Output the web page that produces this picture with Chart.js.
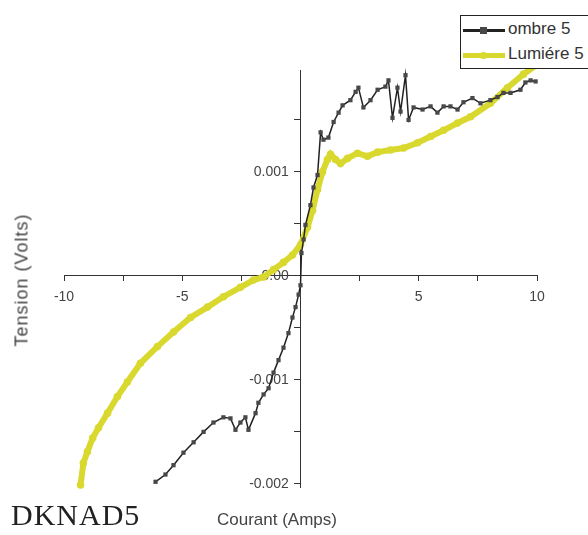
<!DOCTYPE html>
<html lang="fr">
<head>
  <meta charset="UTF-8" />
  <title>ombre 5 / Lumiére 5</title>
  <script src="https://cdn.jsdelivr.net/npm/chart.js"></script>
  <style>
    body { margin: 0; background: #fff; font-family: Arial, "Liberation Sans", sans-serif; }
    #wrap { position: relative; width: 588px; height: 535px; overflow: hidden; }
    canvas { position: absolute; left: 0; top: 0; }
    .lbl { position: absolute; color: #444; white-space: nowrap; }
    #xTitle { left: 217px; top: 510px; font-size: 17px; }
    #yTitle { left: 22px; top: 280px; font-size: 18px; letter-spacing: 1px; transform: translate(-50%, -50%) rotate(-90deg); }
    #tag { left: 11px; top: 498px; font-family: "Liberation Serif", "Times New Roman", serif; font-size: 30px; letter-spacing: 1px; color: #222; }
    #legend { position: absolute; left: 460px; top: 15px; width: 140px; height: 52px; border: 1px solid #222; background: #fff; }
    .row { position: absolute; left: 2px; height: 20px; width: 140px; }
    .row .ln { position: absolute; left: 0; width: 42px; top: 9px; }
    .row .mk { position: absolute; left: 17px; }
    .row .tx { position: absolute; left: 45px; top: 0; font-size: 17px; color: #333; line-height: 20px; }
  </style>
</head>
<body>
<div id="wrap">
  <canvas id="chart" width="588" height="535"></canvas>
  <div id="legend"></div>
  <div class="lbl" id="xTitle">Courant (Amps)</div>
  <div class="lbl" id="yTitle">Tension (Volts)</div>
  <div class="lbl" id="tag">DKNAD5</div>
</div>

<script>
  // courant (A) / tension (V)
  const courantOmbre = [-6.13, -5.71, -5.37, -4.95, -4.52, -4.10, -3.68, -3.26, -2.96, -2.75, -2.54, -2.33, -2.20, -1.90, -1.78, -1.56, -1.35, -1.14, -0.93, -0.72, -0.51, -0.34, -0.21, -0.08, 0.00, 0.04, 0.13, 0.21, 0.42, 0.55, 0.72, 0.85, 0.97, 1.18, 1.40, 1.61, 1.78, 2.11, 2.33, 2.45, 2.66, 2.96, 3.26, 3.59, 3.72, 3.89, 4.10, 4.23, 4.44, 4.57, 4.78, 5.16, 5.50, 5.79, 6.05, 6.34, 6.64, 6.89, 7.27, 7.61, 8.03, 8.33, 8.58, 8.88, 9.30, 9.51, 9.73, 9.94];
  const tensionOmbre = [-0.00198, -0.00191, -0.00182, -0.00170, -0.00160, -0.00150, -0.00141, -0.00136, -0.00137, -0.00148, -0.00141, -0.00136, -0.00148, -0.00132, -0.00122, -0.00114, -0.00108, -0.00093, -0.00081, -0.00069, -0.00055, -0.00040, -0.00030, -0.00018, -0.00009, 0.00022, 0.00035, 0.00049, 0.00068, 0.00085, 0.00097, 0.00138, 0.00131, 0.00133, 0.00148, 0.00157, 0.00164, 0.00169, 0.00177, 0.00181, 0.00162, 0.00169, 0.00179, 0.00182, 0.00188, 0.00152, 0.00181, 0.00158, 0.00193, 0.00150, 0.00162, 0.00160, 0.00163, 0.00157, 0.00163, 0.00163, 0.00160, 0.00167, 0.00171, 0.00166, 0.00169, 0.00172, 0.00176, 0.00176, 0.00179, 0.00186, 0.00188, 0.00187];

  const courantLumiere = [-9.30, -9.18, -9.01, -8.79, -8.54, -8.16, -7.74, -7.32, -6.77, -6.05, -5.37, -4.65, -3.93, -3.26, -2.54, -1.99, -1.56, -1.14, -0.72, -0.34, 0.00, 0.30, 0.51, 0.72, 0.93, 1.14, 1.27, 1.48, 1.69, 1.99, 2.41, 2.83, 3.26, 3.81, 4.36, 4.95, 5.50, 6.05, 6.64, 7.19, 8.03, 8.75, 9.43, 10.0];
  const tensionLumiere = [-0.00201, -0.00180, -0.00169, -0.00156, -0.00146, -0.00132, -0.00116, -0.00102, -0.00084, -0.00068, -0.00054, -0.00040, -0.00030, -0.00020, -0.00011, -0.00004, -0.00001, 0.00006, 0.00013, 0.00020, 0.00030, 0.00047, 0.00063, 0.00083, 0.00100, 0.00112, 0.00117, 0.00112, 0.00108, 0.00113, 0.00118, 0.00115, 0.00119, 0.00121, 0.00123, 0.00128, 0.00134, 0.00140, 0.00147, 0.00153, 0.00166, 0.00181, 0.00194, 0.00203];

  const xTickLabels = ['-10', '-5', '5', '10'];
  const yTickLabels = ['-0.002', '-0.001', '0.00', '0.001'];

  function pts(xs, ys) {
    return xs.map((x, i) => ({ x: x, y: ys[i] }));
  }

  const axisColor = '#333';
  const tickFont = { family: 'Arial, "Liberation Sans", sans-serif', size: 14 };

  const ctx = document.getElementById('chart').getContext('2d');
  const chart = new Chart(ctx, {
    type: 'scatter',
    data: {
      datasets: [
        {
          label: 'ombre 5',
          data: pts(courantOmbre, tensionOmbre),
          showLine: true,
          borderColor: '#222',
          borderWidth: 1.5,
          pointStyle: 'rect',
          pointRadius: 3,
          pointBackgroundColor: '#484848',
          pointBorderColor: '#484848',
          pointBorderWidth: 0,
          clip: false
        },
        {
          label: 'Lumiére 5',
          data: pts(courantLumiere, tensionLumiere),
          showLine: true,
          borderColor: '#d8d82e',
          borderWidth: 6,
          pointStyle: 'circle',
          pointRadius: 3.8,
          pointBackgroundColor: '#d8d82e',
          pointBorderColor: '#d8d82e',
          pointBorderWidth: 0,
          clip: false
        }
      ]
    },
    options: {
      responsive: false,
      animation: false,
      devicePixelRatio: 1,
      layout: { padding: { left: 64, right: 51, top: 70, bottom: 48 } },
      plugins: {
        legend: { display: false },
        tooltip: { enabled: false }
      },
      scales: {
        x: {
          type: 'linear',
          position: { y: 0 },
          min: -10,
          max: 10,
          border: { display: true, color: axisColor, width: 1 },
          grid: { drawOnChartArea: false, drawTicks: true, tickLength: 5, color: axisColor },
          ticks: {
            stepSize: 2.5,
            autoSkip: false,
            maxRotation: 0,
            padding: 8,
            color: '#444',
            font: tickFont,
            callback: v => xTickLabels.includes(String(v)) ? String(v) : ''
          }
        },
        y: {
          type: 'linear',
          position: { x: 0 },
          min: -0.00203,
          max: 0.00198,
          border: { display: true, color: axisColor, width: 1 },
          grid: { drawOnChartArea: false, drawTicks: true, tickLength: 6, color: axisColor },
          ticks: {
            stepSize: 0.0005,
            includeBounds: false,
            autoSkip: false,
            color: '#444',
            font: tickFont,
            callback: v => {
              const k = Math.round(v * 1000);
              if (Math.abs(v * 1000 - k) > 1e-6) return '';
              const s = k === 0 ? '0.00' : (k / 1000).toFixed(3);
              // trailing spaces keep the right-aligned label clear of the tick
              return yTickLabels.includes(s) ? s + '   ' : '';
            }
          }
        }
      }
    }
  });

  // legend built from the datasets
  const legend = document.getElementById('legend');
  chart.data.datasets.forEach((ds, i) => {
    const row = document.createElement('div');
    row.className = 'row';
    row.style.top = (3 + i * 25) + 'px';
    const thick = i === 0 ? 3 : 5;
    const ln = document.createElement('div');
    ln.className = 'ln';
    ln.style.height = thick + 'px';
    ln.style.top = (11 - thick / 2) + 'px';
    ln.style.background = ds.borderColor;
    const mk = document.createElement('div');
    mk.className = 'mk';
    mk.style.width = '7px';
    mk.style.height = '7px';
    mk.style.top = '7.5px';
    mk.style.background = ds.pointBackgroundColor;
    if (ds.pointStyle === 'circle') mk.style.borderRadius = '50%';
    const tx = document.createElement('div');
    tx.className = 'tx';
    tx.textContent = ds.label;
    row.appendChild(ln);
    row.appendChild(mk);
    row.appendChild(tx);
    legend.appendChild(row);
  });
</script>
</body>
</html>
